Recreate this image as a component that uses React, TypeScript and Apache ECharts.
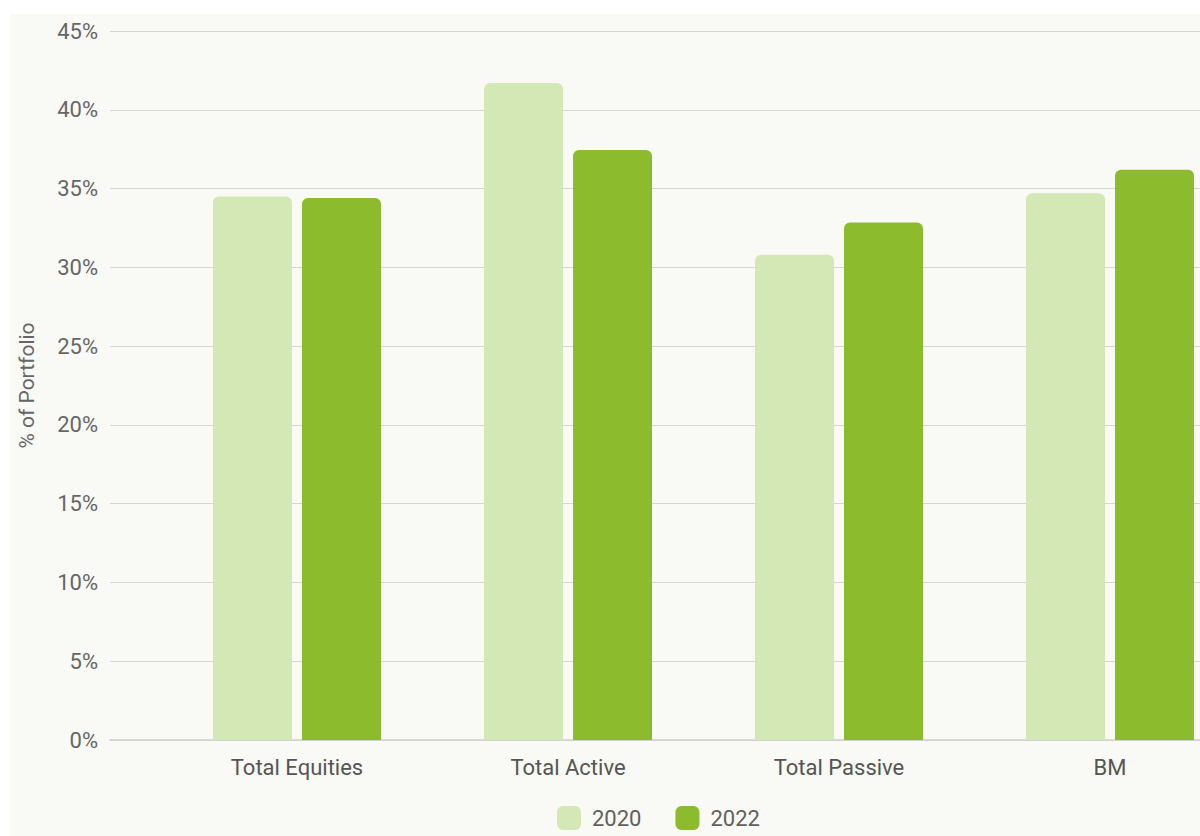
import React, { useEffect, useRef } from "react";
import * as echarts from "echarts";

const categories = ["Total Equities", "Total Active", "Total Passive", "BM"];
const series2020 = [34.5, 41.7, 30.8, 34.7];
const series2022 = [34.4, 37.45, 32.85, 36.2];
const yTicks = [0, 5, 10, 15, 20, 25, 30, 35, 40, 45];
const seriesNames = ["2020", "2022"];
const colors = ["#d4e8b5", "#8cbb2d"];

export default function App() {
  const ref = useRef<HTMLDivElement>(null);
  useEffect(() => {
    document.body.style.margin = "0";
    const chart = echarts.init(ref.current!, null, { renderer: "svg" });
    const font = "Roboto, 'Noto Sans', sans-serif";
    chart.setOption({
      animation: false,
      backgroundColor: "#ffffff",
      textStyle: { fontFamily: font },
      graphic: [
        {
          type: "rect",
          left: 10,
          top: 14,
          shape: { width: 1190, height: 822 },
          style: { fill: "#f9f9f6" },
          z: -10,
          silent: true,
        },
      ],
      legend: {
        data: seriesNames,
        left: 552,
        top: 801,
        itemWidth: 24,
        itemHeight: 24,
        itemGap: 34,
        icon: "roundRect",
        textStyle: { fontSize: 22, color: "#606060", fontFamily: font, padding: [0, 0, 0, 6] },
      },
      grid: [
        { left: 110, top: 31, right: 0, bottom: 96, outerBoundsMode: "none" },
        { left: 161.5, top: 31, width: 1084, bottom: 96, outerBoundsMode: "none" },
      ],
      xAxis: [
        {
          gridIndex: 0,
          type: "value",
          min: 0,
          max: 1,
          axisLine: { show: true, lineStyle: { color: "#cfcfcf", width: 1.5 } },
          axisTick: { show: false },
          axisLabel: { show: false },
          splitLine: { show: false },
        },
        {
          gridIndex: 1,
          type: "category",
          data: categories,
          axisLine: { show: false },
          axisTick: { show: false },
          axisLabel: { fontSize: 22, color: "#555555", margin: 16, fontFamily: font },
        },
      ],
      yAxis: [
        {
          gridIndex: 0,
          type: "value",
          min: yTicks[0],
          max: yTicks[yTicks.length - 1],
          interval: 5,
          name: "% of Portfolio",
          nameLocation: "middle",
          nameGap: 73,
          nameTextStyle: { fontSize: 21, color: "#666666", fontFamily: font },
          axisLine: { show: false },
          axisTick: { show: false },
          axisLabel: { fontSize: 22, color: "#666666", margin: 12, formatter: "{value}%", fontFamily: font },
          splitLine: { show: true, lineStyle: { color: "#d6d6d6", width: 1.2 } },
        },
        {
          gridIndex: 1,
          type: "value",
          min: yTicks[0],
          max: yTicks[yTicks.length - 1],
          show: false,
          splitLine: { show: false },
        },
      ],
      series: [
        {
          name: seriesNames[0],
          type: "bar",
          xAxisIndex: 1,
          yAxisIndex: 1,
          data: series2020,
          barWidth: 79,
          barGap: "12.7%",
          itemStyle: { color: colors[0], borderRadius: [6, 6, 0, 0] },
        },
        {
          name: seriesNames[1],
          type: "bar",
          xAxisIndex: 1,
          yAxisIndex: 1,
          data: series2022,
          barWidth: 79,
          barGap: "12.7%",
          itemStyle: { color: colors[1], borderRadius: [6, 6, 0, 0] },
        },
      ],
    });
    return () => chart.dispose();
  }, []);
  return <div ref={ref} style={{ width: 1200, height: 836 }} />;
}
